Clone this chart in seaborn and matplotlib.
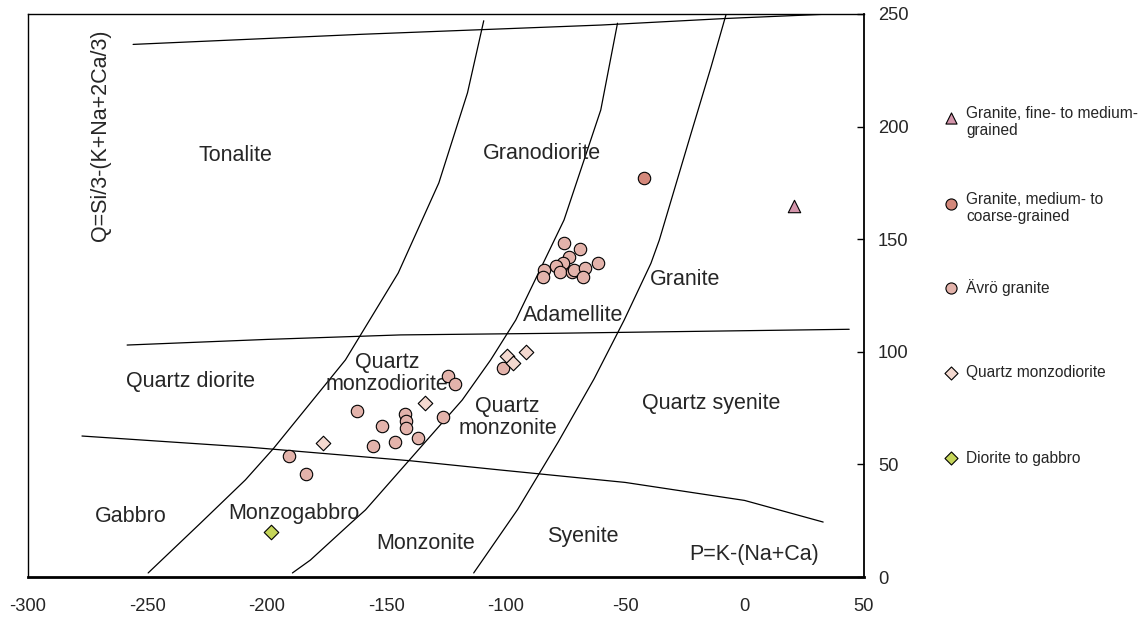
import matplotlib
matplotlib.use("Agg")
import matplotlib.pyplot as plt
import seaborn as sns
import pandas as pd

# ---------------- data ----------------
gfm_x = [20.9]
gfm_y = [164.7]
gmc_x = [-42.3]
gmc_y = [177.3]
avro_x = [-75.8, -69.1, -73.5, -76.2, -79.0, -83.9, -84.2, -77.4, -72.3, -71.4, -66.8, -67.8, -61.3,
          -124.2, -121.4, -162.2, -142.3, -141.8, -151.6, -141.6, -126.4, -136.8, -146.5, -155.5,
          -190.9, -183.6, -101.1]
avro_y = [148.4, 145.5, 142.2, 139.6, 138.1, 136.3, 133.1, 135.6, 135.6, 136.3, 137.1, 133.1, 139.6,
          89.3, 85.6, 73.7, 72.4, 69.4, 67.2, 66.0, 71.2, 61.9, 60.1, 58.3,
          53.9, 45.6, 92.7]
qmd_x = [-134.0, -176.4, -99.6, -96.9, -91.5]
qmd_y = [77.4, 59.6, 98.1, 95.2, 99.9]
dg_x = [-198.2]
dg_y = [19.8]

series_names = ["Granite, fine- to medium-\ngrained",
                "Granite, medium- to\ncoarse-grained",
                "Ävrö granite",
                "Quartz monzodiorite",
                "Diorite to gabbro"]
series_colors = ["#D495AB", "#D4887B", "#E3B3AB", "#F4D9D0", "#C5D55A"]
series_markers = ["^", "o", "o", "D", "D"]

# boundary lines
top_x = [-256, -160, -60, -8, 49]
top_y = [236.5, 241.0, 245.1, 248.0, 250.6]
mid_x = [-258.5, -200, -144.0, -81.1, 43.8]
mid_y = [103.0, 105.5, 107.5, 108.2, 110.0]
low_x = [-277.4, -206.9, -139.8, -102.1, -50, 0, 32.9]
low_y = [62.6, 57.6, 51.6, 47.5, 42.0, 34.0, 24.4]
cA_x = [-249.7, -227.9, -209.0, -197.2, -167.1, -145, -128, -116, -109.2]
cA_y = [1.8, 23.8, 43.1, 57.1, 96.4, 135, 175, 215, 247.0]
cB_x = [-189.3, -181.8, -165.0, -158.7, -118.2, -106.3, -95.8, -75.6, -60.2, -53.2]
cB_y = [1.8, 7.5, 23.8, 29.8, 78.6, 96.4, 114.1, 158.5, 207.4, 245.9]
cC_x = [-113.4, -95, -78, -63, -50.4, -39.2, -35.7, -22.4, -14.0, -7.8]
cC_y = [1.8, 30, 60, 88, 114.1, 139.3, 149.6, 197.0, 226.6, 249.6]

field_names = ["Tonalite", "Granodiorite", "Granite", "Adamellite", "Quartz diorite",
               "Quartz\nmonzodiorite", "Quartz\nmonzonite", "Quartz syenite", "Gabbro",
               "Monzogabbro", "Monzonite", "Syenite"]
field_x = [-213, -85, -25, -71.6, -232, -149.6, -99.2, -14, -257, -188.6, -133.5, -67.7]
field_y = [187, 188, 132, 116.3, 87, 90.4, 70.8, 77, 27, 28.3, 15, 18]

x_ticks = [-300, -250, -200, -150, -100, -50, 0, 50]
y_ticks = [0, 50, 100, 150, 200, 250]

# ---------------- plot ----------------
sns.set_theme(style="white")
plt.rcParams["font.family"] = ["Liberation Sans", "DejaVu Sans"]

fig = plt.figure(figsize=(11.47, 6.22), dpi=100)
ax = fig.add_axes([28 / 1147, 45 / 622, 836 / 1147, 563 / 622])

for xs, ys in [(top_x, top_y), (mid_x, mid_y), (low_x, low_y), (cA_x, cA_y), (cB_x, cB_y), (cC_x, cC_y)]:
    sns.lineplot(x=xs, y=ys, ax=ax, color="black", lw=0.9, sort=False, estimator=None, clip_on=True)

groups = [(gfm_x, gfm_y), (gmc_x, gmc_y), (avro_x, avro_y), (qmd_x, qmd_y), (dg_x, dg_y)]
sizes = [80, 80, 80, 55, 55]
for (xs, ys), name, col, mk, s in zip(groups, series_names, series_colors, series_markers, sizes):
    df = pd.DataFrame({"x": xs, "y": ys})
    sns.scatterplot(data=df, x="x", y="y", ax=ax, color=col, marker=mk, s=s,
                    edgecolor="black", linewidth=0.8, zorder=5, legend=False)

for name, fx, fy in zip(field_names, field_x, field_y):
    ax.text(fx, fy, name, fontsize=15.5, ha="center", va="center", linespacing=1.05)

ax.text(-269.8, 243, "Q=Si/3-(K+Na+2Ca/3)", rotation=90, fontsize=15.5, ha="center", va="top")
ax.text(4, 10, "P=K-(Na+Ca)", fontsize=15.5, ha="center", va="center")

ax.set_xlim(-300, 50)
ax.set_ylim(0, 250)
ax.set_xticks(x_ticks)
ax.set_yticks(y_ticks)
ax.set_xticklabels([str(v) for v in x_ticks], fontsize=13.2)
ax.set_yticklabels([str(v) for v in y_ticks], fontsize=13.2)
ax.yaxis.tick_right()
ax.tick_params(axis="y", direction="in", length=5, width=1, color="black", pad=10, left=False, right=True)
ax.tick_params(axis="x", direction="out", length=0, pad=15, bottom=True)
ax.set_xlabel("")
ax.set_ylabel("")
for side in ["left", "top"]:
    ax.spines[side].set_linewidth(1.0)
    ax.spines[side].set_color("black")
ax.spines["right"].set_linewidth(1.3)
ax.spines["right"].set_color("black")
ax.spines["bottom"].set_linewidth(2.0)
ax.spines["bottom"].set_color("black")

# legend drawn in a pixel-space overlay
lax = fig.add_axes([0, 0, 1, 1], facecolor="none")
lax.set_xlim(0, 1147)
lax.set_ylim(622, 0)
lax.axis("off")
leg_y = [118, 204, 288, 373, 458]
for name, col, mk, s, ly in zip(series_names, series_colors, series_markers, sizes, leg_y):
    lax.scatter([951], [ly], s=s * 0.8, color=col, marker=mk, edgecolor="black", linewidth=0.8)
    if "\n" in name:
        lax.text(966, ly - 12, name, fontsize=11.2, ha="left", va="top", linespacing=1.15)
    else:
        lax.text(966, ly, name, fontsize=11.2, ha="left", va="center")

fig.savefig("out.png", dpi=100)
